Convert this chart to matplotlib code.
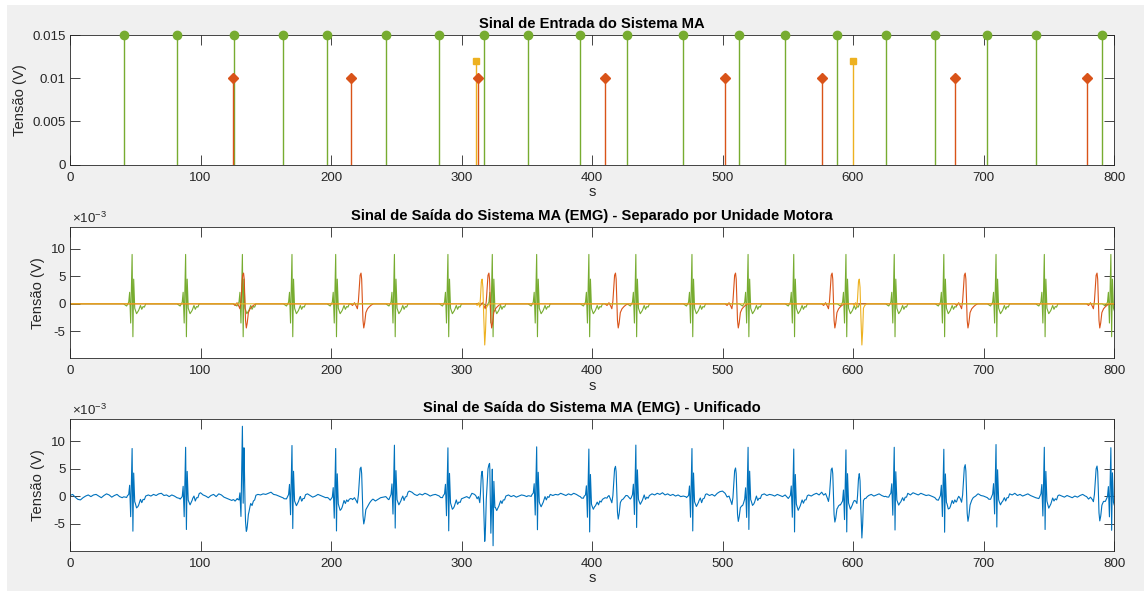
import numpy as np
import matplotlib.pyplot as plt
from matplotlib.ticker import FuncFormatter
from matplotlib.patches import Rectangle

plt.rcParams['font.family'] = ['Liberation Sans', 'DejaVu Sans']
plt.rcParams['mathtext.fontset'] = 'custom'
plt.rcParams['mathtext.rm'] = 'Liberation Sans'
plt.rcParams['axes.unicode_minus'] = False

# instantes de disparo de cada unidade motora (s)
disparos_verde = [41, 82, 125.5, 163.5, 197, 242, 283, 317, 351, 391,
                  427, 470, 513, 548, 588, 625, 663, 703, 740, 791]
disparos_laranja = [125, 215, 313, 410, 502, 576, 678, 779]
disparos_amarelo = [311, 600]

# amplitude dos impulsos de entrada (V)
amp_verde = 0.015
amp_laranja = 0.010
amp_amarelo = 0.012

# MUAP de cada unidade: atraso em relacao ao disparo (s) e amplitude (mV)
muap_verde_t = [0, 2.4, 4.0, 4.7, 5.5, 6.6, 7.2, 7.8, 8.6, 10, 11.6, 13, 14, 15, 16, 17]
muap_verde_v = [0, -0.4, 0.3, 2.1, -3.5, 9.0, -6.0, 4.5, -0.8, -1.8, -1.2, -0.3, -1.0, -0.5, -0.6, 0]
muap_laranja_t = [0, 1.5, 3, 4.5, 5.2, 6.0, 6.7, 7.3, 8.0, 8.5, 9.0, 9.5, 10.1, 10.8, 11.7, 13, 14.5, 16, 17.5]
muap_laranja_v = [0, -0.3, 0.2, -0.5, -0.9, 0.5, 3.0, 5.2, 5.6, 4.5, 1.0, -3.0, -4.4, -3.5, -1.6, -0.9, -0.5, -0.2, 0]
muap_amarelo_t = [0, 1, 2, 3, 3.5, 4.2, 4.8, 5.4, 6.0, 6.8, 7.4, 8.0, 9.0, 10.5]
muap_amarelo_v = [0, -0.3, 0.2, -0.6, 1.0, 4.0, 4.5, 3.0, -2.0, -7.5, -5.0, -0.8, -0.3, 0]

# ruido de fundo do EMG, uma amostra a cada 2 s (mV)
ruido = [
    0.1, 0.3, -0.2, -0.6, -0.7, -0.3, 0.0, 0.2, -0.1, 0.2,
    0.3, 0.0, -0.3, 0.1, 0.4, 0.2, -0.2, 0.1, 0.3, -0.1,
    -0.3, 0.0, 0.2, -0.2, -0.4, -0.2, -0.5, -0.3, -0.1, 0.0,
    0.2, 0.0, 0.3, 0.1, 0.4, 0.5, 0.1, 0.2, -0.1, 0.2,
    0.0, -0.3, -0.1, -0.4, -0.2, 0.0, 0.2, 0.5, 0.1, 0.3,
    0.6, 0.2, 0.0, -0.3, 0.1, 0.3, -0.1, 0.4, 0.2, -0.2,
    -0.4, -0.6, -0.8, -0.5, -0.3, -0.6, -0.8, -0.6, -0.4, -0.3,
    -0.2, 0.1, 0.3, 0.2, 0.4, 0.3, 0.5, 0.7, 0.3, 0.2,
    0.0, -0.2, -0.4, -0.1, 0.0, 0.2, -0.1, 0.1, 0.3, 0.0,
    0.2, 0.4, 0.1, -0.2, 0.0, 0.3, 0.1, -0.1, -0.3, -0.2,
    -0.4, -0.6, -0.3, -0.7, -0.9, -0.5, -0.2, -0.6, -0.3, -0.5,
    -0.4, -0.2, -0.5, -0.8, -1.0, -0.7, -0.5, -0.9, -0.6, -0.3,
    -0.2, -0.1, -0.3, 0.0, 0.3, 0.1, 0.2, 0.4, 0.2, 0.5,
    0.9, 0.7, 0.3, 0.1, 0.4, 0.2, 0.5, 0.3, 0.0, 0.2,
    0.3, 0.1, -0.1, 0.2, 0.0, -0.3, -0.5, -0.7, -0.4, -0.6,
    -0.5, -0.3, -0.1, -0.4, 0.5, 0.3, -0.2, -0.4, -0.1, 0.1,
    0.0, -0.2, -0.4, -0.1, -0.3, -0.5, -0.2, 0.0, 0.2, -0.1,
    0.1, -0.2, 0.0, 0.2, 0.1, -0.1, 0.2, 0.4, 0.1, -0.1,
    -0.3, 0.0, 0.2, 0.4, 0.3, 0.1, 0.3, 0.2, 0.5, 0.3,
    0.1, 0.4, 0.2, 0.5, 0.3, 0.0, -0.2, 0.1, -0.3, -0.5,
    -0.7, -0.5, -0.8, -0.4, -0.6, -0.3, 0.0, -0.2, -0.4, -0.2,
    0.2, 0.4, 0.1, 0.3, 0.0, -0.2, 0.1, 0.3, 0.2, 0.4,
    0.5, 0.3, 0.1, 0.4, 0.2, 0.5, 0.3, 0.6, 0.2, 0.4,
    0.1, 0.3, 0.0, 0.2, -0.1, 0.0, 0.2, -0.2, -0.4, -0.3,
    -0.1, 0.1, -0.2, 0.2, 0.4, 0.1, 0.3, 0.0, 0.5, 0.8,
    0.9, 0.5, 0.0, -0.4, -0.8, -0.5, -0.2, -0.4, -0.6, -0.3,
    -0.1, 0.2, 0.0, 0.3, 0.1, 0.2, 0.4, 0.1, 0.3, 0.2,
    0.0, 0.3, 0.1, -0.1, 0.2, 0.0, -0.2, -0.4, -0.6, -0.8,
    -0.5, -0.3, -0.1, 0.2, 0.0, 0.3, 0.5, 0.2, 0.7, 0.4,
    0.1, -0.2, -0.5, -0.3, -0.8, -0.6, -1.0, -0.7, -0.4, -0.6,
    -0.3, -0.1, -0.4, -0.2, 0.0, -0.3, 0.1, 0.3, 0.0, 0.2,
    0.4, 0.1, -0.1, 0.0, 0.3, 0.1, -0.2, 0.1, 0.2, 0.0,
    0.3, 0.5, 0.2, 0.6, 0.4, 0.2, 0.5, 0.3, 0.1, 0.2,
    0.0, -0.2, -0.5, -0.3, -0.1, -0.6, -0.3, -0.8, -0.5, -0.2,
    -0.4, -0.1, -0.3, 0.1, -0.2, 0.0, 0.3, 0.2, 0.4, 0.1,
    0.0, -0.2, -0.4, -0.1, 0.2, 0.4, 0.1, 0.3, 0.0, 0.2,
    0.4, 0.2, 0.5, 0.1, 0.3, 0.0, 0.2, 0.4, 0.1, -0.1,
    -0.3, -0.1, 0.1, -0.2, 0.0, -0.4, -0.2, 0.1, -0.1, 0.2,
    0.0, -0.2, 0.1, -0.1, -0.3, 0.0, -0.2, 0.1, 0.3, 0.0,
    -0.2, -0.4, -0.1, -0.3, 0.0, -0.2, 0.1, -0.1, -0.3, -0.2,
    -0.4,
]

VERDE = '#77AC30'
LARANJA = '#D95319'
AMARELO = '#EDB120'
AZUL = '#0072BD'
EIXO = '#262626'
T_FIM = 800


def trem(disparos, atrasos, valores):
    # soma o MUAP da unidade em cada disparo; zero fora dele
    xs, ys = [0.0], [0.0]
    for d in disparos:
        xs += [d + a for a in atrasos]
        ys += list(valores)
    if xs[-1] < T_FIM:
        xs.append(T_FIM)
        ys.append(0.0)
    return np.array(xs), np.array(ys) * 1e-3


trens = [
    (trem(disparos_verde, muap_verde_t, muap_verde_v), VERDE),
    (trem(disparos_laranja, muap_laranja_t, muap_laranja_v), LARANJA),
    (trem(disparos_amarelo, muap_amarelo_t, muap_amarelo_v), AMARELO),
]

# EMG unificado = soma das unidades + ruido
t_ruido = np.arange(len(ruido)) * 2.0
t_emg = np.unique(np.concatenate([t_ruido] + [xy[0] for xy, _ in trens]))
emg = np.interp(t_emg, t_ruido, np.array(ruido) * 1e-3)
for (x, y), _ in trens:
    emg += np.interp(t_emg, x, y)
lim_emg = (1.1 * emg.min(), 1.1 * emg.max())

fig = plt.figure(figsize=(11.44, 5.91), dpi=100, facecolor='white')
fig.patches.append(Rectangle((7 / 1144, 0), 1, 1 - 5 / 591, transform=fig.transFigure,
                             facecolor='#f0f0f0', edgecolor='none', zorder=-10))

L, W = 70 / 1144, 1044 / 1144
ax1 = fig.add_axes([L, 1 - 164.7 / 591, W, 129.7 / 591])
ax2 = fig.add_axes([L, 1 - 358.3 / 591, W, 131 / 591])
ax3 = fig.add_axes([L, 1 - 550.7 / 591, W, 131.4 / 591])


def estilo(ax, titulo):
    ax.set_xlim(0, T_FIM)
    ax.set_xticks(range(0, T_FIM + 1, 100))
    ax.tick_params(direction='in', length=7, width=0.6, top=True, right=True,
                   colors=EIXO, labelsize=9.6)
    ax.tick_params(axis='x', pad=5)
    ax.tick_params(axis='y', pad=3)
    for sp in ax.spines.values():
        sp.set_color(EIXO)
        sp.set_linewidth(0.6)
    ax.set_title(titulo, fontsize=10.6, fontweight='bold', color='black', pad=5)
    ax.set_xlabel('s', fontsize=10.6, color=EIXO, labelpad=1)
    ax.set_ylabel('Tensão (V)', fontsize=10.6, color=EIXO, labelpad=4)


# impulsos de entrada
for disp, amp, cor, mk, ms in [(disparos_verde, amp_verde, VERDE, 'o', 6),
                               (disparos_laranja, amp_laranja, LARANJA, 'D', 5),
                               (disparos_amarelo, amp_amarelo, AMARELO, 's', 4.5)]:
    ml, sl, bl = ax1.stem(disp, [amp] * len(disp), basefmt=' ')
    plt.setp(sl, color=cor, linewidth=1)
    plt.setp(ml, color=cor, marker=mk, markersize=ms, markerfacecolor=cor,
             markeredgecolor=cor, clip_on=False, zorder=4)
ax1.set_ylim(0, 0.015)
ax1.set_yticks([0, 0.005, 0.01, 0.015])
ax1.yaxis.set_major_formatter(FuncFormatter(lambda v, p: '%g' % round(v, 6)))
estilo(ax1, 'Sinal de Entrada do Sistema MA')

# saida separada por unidade motora
for (x, y), cor in trens:
    ax2.plot(x, y, color=cor, linewidth=0.8)
# saida unificada
ax3.plot(t_emg, emg, color=AZUL, linewidth=0.8)

mili = FuncFormatter(lambda v, p: '%g' % round(v * 1e3, 6))
for ax, titulo in [(ax2, 'Sinal de Saída do Sistema MA (EMG) - Separado por Unidade Motora'),
                   (ax3, 'Sinal de Saída do Sistema MA (EMG) - Unificado')]:
    ax.set_ylim(*lim_emg)
    ax.set_yticks([-5e-3, 0, 5e-3, 10e-3])
    ax.yaxis.set_major_formatter(mili)
    estilo(ax, titulo)
    ax.text(0.002, 1.012, r'$\times10^{-3}$', transform=ax.transAxes,
            fontsize=9.6, color=EIXO, ha='left', va='bottom')

fig.savefig('out.png', dpi=100, facecolor=fig.get_facecolor())
